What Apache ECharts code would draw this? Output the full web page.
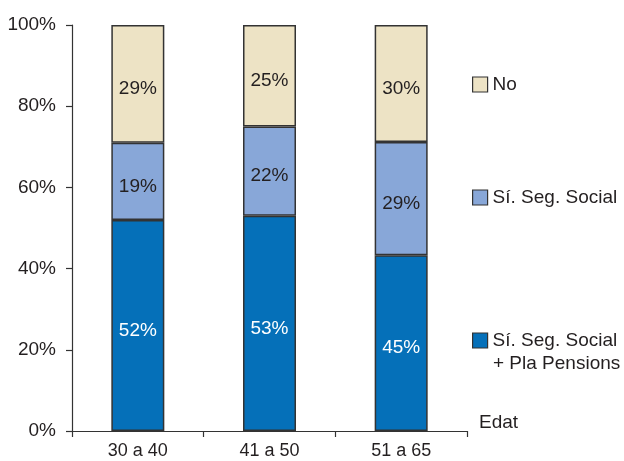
<!DOCTYPE html>
<html>
<head>
<meta charset="utf-8">
<script src="https://cdn.jsdelivr.net/npm/echarts@6/dist/echarts.min.js"></script>
<style>html,body{margin:0;padding:0;background:#fff;}#c{width:624px;height:461px;}</style>
</head>
<body>
<div id="c"></div>
<script>
var categories = ['30 a 40', '41 a 50', '51 a 65'];
var pensionsVals = [52, 53, 45];   // Sí. Seg. Social + Pla Pensions
var segSocialVals = [19, 22, 29];  // Sí. Seg. Social
var noVals = [29, 25, 30];         // No
var yTicks = [0, 20, 40, 60, 80, 100];

var totals = categories.map(function (c, i) { return pensionsVals[i] + segSocialVals[i] + noVals[i]; });
function share(arr) { return arr.map(function (v, i) { return v / totals[i] * 100; }); }

var font = '"Liberation Sans", Arial, sans-serif';
var txt = '#231f20';
var border = '#333333';

function mkSeries(name, arr, color, labelColor) {
  return {
    name: name,
    type: 'bar',
    stack: 'all',
    barWidth: 53,
    data: share(arr),
    itemStyle: { color: color, borderColor: border, borderWidth: 1.5 },
    label: {
      show: true, position: 'inside', color: labelColor, offset: [0, 5],
      fontFamily: font, fontSize: 19,
      formatter: function (p) { return arr[p.dataIndex] + '%'; }
    },
    emphasis: { disabled: true }
  };
}

var legendBase = {
  orient: 'vertical', left: 472, padding: 0,
  icon: 'rect', itemWidth: 15, itemHeight: 15, itemGap: 0,
  itemStyle: { borderColor: border, borderWidth: 1.2 },
  textStyle: { color: txt, fontFamily: font, fontSize: 19 },
  selectedMode: false
};

var chart = echarts.init(document.getElementById('c'), null, { renderer: 'canvas' });
chart.setOption({
  animation: false,
  backgroundColor: '#ffffff',
  grid: { left: 72, right: 157, top: 25, bottom: 30, containLabel: false },
  xAxis: {
    type: 'category',
    data: categories,
    name: 'Edat',
    nameLocation: 'end',
    nameGap: 12,
    nameTextStyle: { color: txt, fontFamily: font, fontSize: 19, align: 'left', verticalAlign: 'bottom', lineHeight: 16 },
    axisLine: { lineStyle: { color: border, width: 1.2 } },
    axisTick: { show: true, length: 6, lineStyle: { color: border, width: 1.2 } },
    axisLabel: { color: txt, fontFamily: font, fontSize: 18, margin: 11 }
  },
  yAxis: {
    type: 'value',
    min: yTicks[0],
    max: yTicks[yTicks.length - 1],
    interval: 20,
    axisLine: { show: true, lineStyle: { color: border, width: 1.2 } },
    axisTick: { show: true, length: 6, lineStyle: { color: border, width: 1.2 } },
    splitLine: { show: false },
    axisLabel: { color: txt, fontFamily: font, fontSize: 19, margin: 16, formatter: '{value}%' }
  },
  legend: [
    Object.assign({}, legendBase, { data: ['No'], top: 75 }),
    Object.assign({}, legendBase, { data: ['Sí. Seg. Social'], top: 188 }),
    Object.assign({}, legendBase, {
      data: ['Sí. Seg. Social + Pla Pensions'], top: 331,
      formatter: function () { return 'Sí. Seg. Social'; }
    })
  ],
  graphic: [
    { type: 'text', left: 493, top: 354, style: { text: '+ Pla Pensions', fill: txt, font: '19px ' + font } }
  ],
  series: [
    mkSeries('Sí. Seg. Social + Pla Pensions', pensionsVals, '#0570b9', '#ffffff'),
    mkSeries('Sí. Seg. Social', segSocialVals, '#88a7d8', txt),
    mkSeries('No', noVals, '#ede3c5', txt)
  ]
});
</script>
</body>
</html>
